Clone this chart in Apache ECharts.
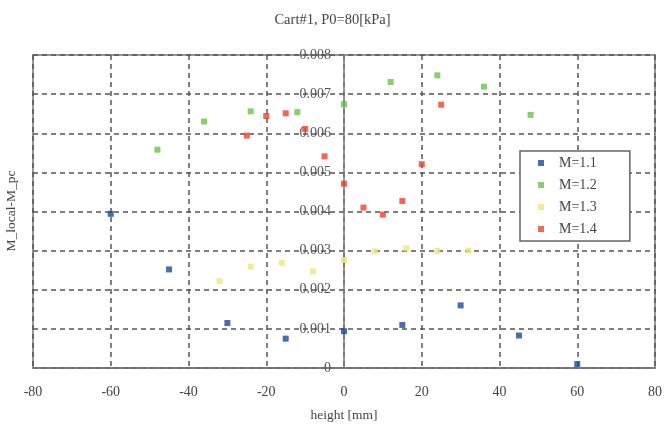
<!DOCTYPE html>
<html>
<head>
<meta charset="utf-8">
<script src="https://cdn.jsdelivr.net/npm/echarts@6/dist/echarts.min.js"></script>
<style>
html, body { margin: 0; padding: 0; background: #fff; }
#main { width: 665px; height: 427px; }
</style>
</head>
<body>
<div id="main"></div>
<script>
var seriesNames = ['M=1.1', 'M=1.2', 'M=1.3', 'M=1.4'];
var seriesColors = ['#1a4a9c', '#6cc14a', '#eee67a', '#f03e2e'];

var m11 = [[-60, 0.00394], [-45, 0.00252], [-30, 0.00115], [-15, 0.00075], [0, 0.00094],
    [15, 0.00110], [30, 0.00160], [45, 0.00083], [60, 0.00010]];
var m12 = [[-48, 0.00558], [-36, 0.00630], [-24, 0.00656], [-12, 0.00654], [0, 0.00674],
    [12, 0.00731], [24, 0.00748], [36, 0.00719], [48, 0.00647]];
var m13 = [[-32, 0.00222], [-24, 0.00259], [-16, 0.00269], [-8, 0.00247], [0, 0.00276],
    [8, 0.00298], [16, 0.00306], [24, 0.00299], [32, 0.00300]];
var m14 = [[-25, 0.00594], [-20, 0.00644], [-15, 0.00651], [-10, 0.00611], [-5, 0.00541],
    [0, 0.00471], [5, 0.00410], [10, 0.00392], [15, 0.00427], [20, 0.00521], [25, 0.00673]];

var chartDom = document.getElementById('main');
var myChart = echarts.init(chartDom);
var font = '"Liberation Serif", "DejaVu Serif", serif';

function makeSeries(name, data, color) {
    return {
        name: name,
        type: 'scatter',
        symbol: 'rect',
        symbolSize: 6,
        itemStyle: { color: color },
        data: data
    };
}

var option = {
    animation: false,
    textStyle: { fontFamily: font },
    title: {
        text: 'Cart#1, P0=80[kPa]',
        left: 'center',
        top: 8,
        textStyle: { fontFamily: font, fontSize: 14.5, fontWeight: 'normal', color: '#444' }
    },
    legend: {
        orient: 'vertical',
        left: 520,
        top: 151,
        padding: [5, 33, 5, 18],
        itemWidth: 6,
        itemHeight: 6,
        itemGap: 8,
        borderColor: '#666',
        borderWidth: 1.5,
        backgroundColor: '#fff',
        icon: 'rect',
        textStyle: { fontFamily: font, fontSize: 14, color: '#444', padding: [0, 0, 0, 10] },
        data: seriesNames
    },
    grid: {
        show: true,
        left: 33,
        right: 10,
        top: 55,
        bottom: 59,
        borderColor: '#777',
        borderWidth: 1.5
    },
    xAxis: {
        type: 'value',
        min: -80,
        max: 80,
        interval: 20,
        name: 'height [mm]',
        nameLocation: 'middle',
        nameGap: 40,
        nameTextStyle: { fontFamily: font, fontSize: 13.5, color: '#444' },
        axisLine: { onZero: false, lineStyle: { color: '#777', width: 1.5 } },
        axisTick: { show: false },
        axisLabel: { fontFamily: font, fontSize: 14, color: '#444', margin: 17 },
        splitLine: { show: true, lineStyle: { type: [5, 4], color: '#555', width: 1.5 } }
    },
    yAxis: {
        type: 'value',
        min: 0,
        max: 0.008,
        interval: 0.001,
        position: 'left',
        offset: -311,
        axisLine: { show: true, onZero: false, lineStyle: { color: '#777', width: 1.5 } },
        axisTick: { show: true, length: 4, lineStyle: { color: '#777' } },
        axisLabel: { fontFamily: font, fontSize: 14, color: '#555', margin: 13 },
        splitLine: { show: true, lineStyle: { type: [5, 4], color: '#555', width: 1.5 } }
    },
    graphic: [{
        type: 'text',
        x: 11,
        y: 211,
        rotation: Math.PI / 2,
        style: {
            text: 'M_local-M_pc',
            fontFamily: font,
            fontSize: 13.5,
            fill: '#444',
            align: 'center',
            verticalAlign: 'middle',
            textAlign: 'center',
            textVerticalAlign: 'middle'
        }
    }],
    series: [
        makeSeries(seriesNames[0], m11, seriesColors[0]),
        makeSeries(seriesNames[1], m12, seriesColors[1]),
        makeSeries(seriesNames[2], m13, seriesColors[2]),
        makeSeries(seriesNames[3], m14, seriesColors[3])
    ]
};

option && myChart.setOption(option);
</script>
</body>
</html>
